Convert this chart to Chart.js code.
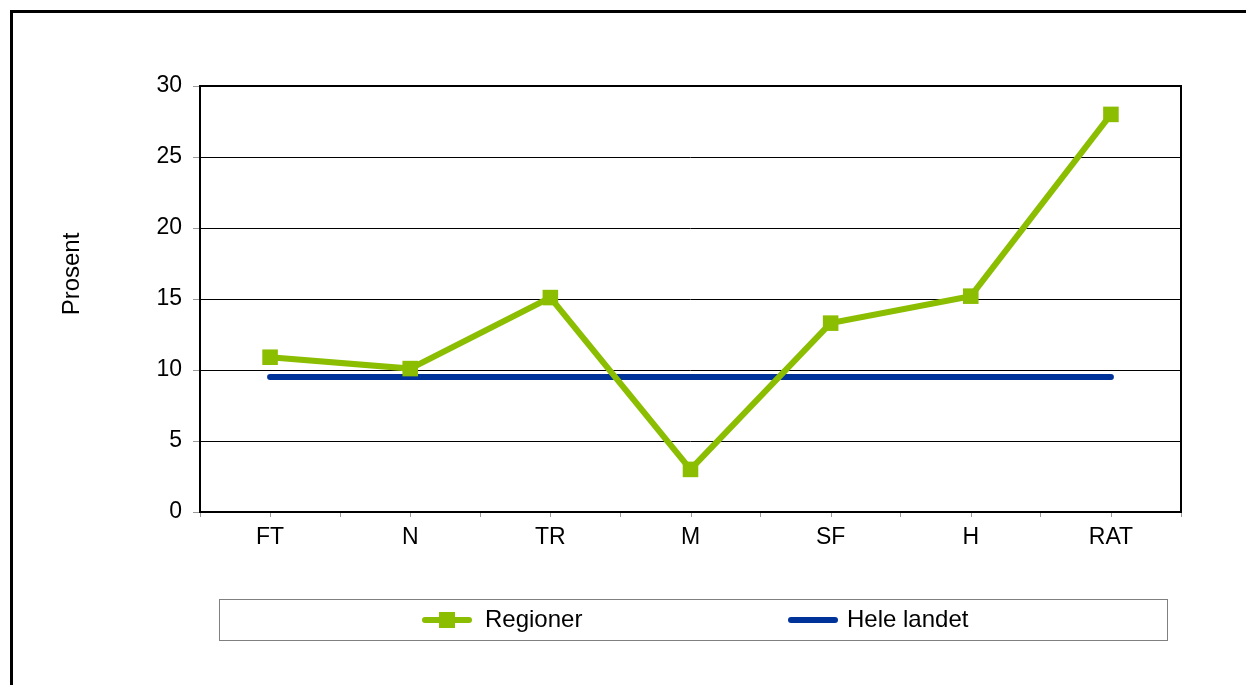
<!DOCTYPE html>
<html>
<head>
<meta charset="utf-8">
<script src="https://cdn.jsdelivr.net/npm/chart.js@4"></script>
<style>
  html, body { margin: 0; padding: 0; background: #fff; }
  canvas { display: block; }
</style>
</head>
<body>
<canvas id="chart" width="1246" height="685"></canvas>
<script>
// data
const categories = ["FT", "N", "TR", "M", "SF", "H", "RAT"];
const regioner = [10.9, 10.1, 15.1, 3.0, 13.3, 15.2, 28.0];
const heleLandet = [9.5, 9.5, 9.5, 9.5, 9.5, 9.5, 9.5];
const yTicks = [0, 5, 10, 15, 20, 25, 30];

const GREEN = "#8BBE00";
const BLUE = "#003399";
const FONT = "Liberation Sans, Arial, sans-serif";

// outer frame, plot border, centre ticks, y title and boxed legend
const decor = {
    id: "decor",
    beforeDraw(chart) {
        const ctx = chart.ctx;
        ctx.save();
        ctx.fillStyle = "#fff";
        ctx.fillRect(0, 0, chart.width, chart.height);
        ctx.strokeStyle = "#000";
        ctx.lineWidth = 3;
        ctx.beginPath();
        ctx.moveTo(11.5, chart.height + 5);
        ctx.lineTo(11.5, 11.5);
        ctx.lineTo(chart.width + 5, 11.5);
        ctx.stroke();
        ctx.restore();
    },
    afterDatasetsDraw(chart) {
        const ctx = chart.ctx;
        const a = chart.chartArea;
        const x = chart.scales.x;
        ctx.save();
        // small ticks under the category centres
        ctx.strokeStyle = "#999";
        ctx.lineWidth = 1;
        categories.forEach((c, i) => {
            const px = Math.round(x.getPixelForValue(i)) + 0.5;
            ctx.beginPath();
            ctx.moveTo(px, a.bottom);
            ctx.lineTo(px, a.bottom + 5);
            ctx.stroke();
        });
        // plot frame
        ctx.strokeStyle = "#000";
        ctx.lineWidth = 2;
        ctx.strokeRect(a.left, a.top, a.right - a.left, a.bottom - a.top);

        // y axis title
        ctx.fillStyle = "#000";
        ctx.font = "24px " + FONT;
        ctx.textAlign = "center";
        ctx.textBaseline = "middle";
        ctx.translate(72, 274);
        ctx.rotate(-Math.PI / 2);
        ctx.fillText("Prosent", 0, 0);
        ctx.restore();

        // legend
        ctx.save();
        ctx.strokeStyle = "#808080";
        ctx.lineWidth = 1;
        ctx.strokeRect(219.5, 599.5, 948, 41);
        ctx.lineCap = "round";
        ctx.lineWidth = 6;
        ctx.strokeStyle = GREEN;
        ctx.beginPath();
        ctx.moveTo(425, 620);
        ctx.lineTo(469, 620);
        ctx.stroke();
        ctx.fillStyle = GREEN;
        ctx.fillRect(439, 612, 16, 16);
        ctx.strokeStyle = BLUE;
        ctx.beginPath();
        ctx.moveTo(791, 620);
        ctx.lineTo(835, 620);
        ctx.stroke();
        ctx.fillStyle = "#000";
        ctx.font = "24px " + FONT;
        ctx.textAlign = "left";
        ctx.textBaseline = "middle";
        ctx.fillText("Regioner", 485, 620);
        ctx.fillText("Hele landet", 847, 620);
        ctx.restore();
    }
};

const ctx = document.getElementById("chart").getContext("2d");
new Chart(ctx, {
    type: "line",
    data: {
        labels: categories,
        datasets: [{
            label: "Regioner",
            data: regioner,
            borderColor: GREEN,
            backgroundColor: GREEN,
            borderWidth: 6,
            pointStyle: "rect",
            pointRadius: 11,
            pointBorderWidth: 0,
            tension: 0
        }, {
            label: "Hele landet",
            data: heleLandet,
            borderColor: BLUE,
            backgroundColor: BLUE,
            borderWidth: 6,
            borderCapStyle: "round",
            pointRadius: 0,
            tension: 0
        }]
    },
    options: {
        responsive: false,
        animation: false,
        layout: { padding: { left: 0, top: 86, right: 65, bottom: 0 } },
        plugins: {
            legend: { display: false },
            tooltip: { enabled: false }
        },
        scales: {
            x: {
                offset: true,
                grid: {
                    offset: true,
                    drawOnChartArea: false,
                    color: "#999",
                    tickLength: 5
                },
                border: { display: false },
                ticks: {
                    color: "#000",
                    font: { family: FONT, size: 23 },
                    padding: 7,
                    maxRotation: 0
                },
                afterFit(s) { s.height = 173; }
            },
            y: {
                min: 0,
                max: 30,
                afterBuildTicks(s) { s.ticks = yTicks.map(v => ({ value: v })); },
                grid: {
                    color: "#000",
                    lineWidth: 1,
                    tickLength: 7,
                    tickColor: "#999"
                },
                border: { display: false },
                ticks: {
                    color: "#000",
                    font: { family: FONT, size: 23 },
                    padding: 11
                },
                afterFit(s) { s.width = 200; }
            }
        }
    },
    plugins: [decor]
});
</script>
</body>
</html>
